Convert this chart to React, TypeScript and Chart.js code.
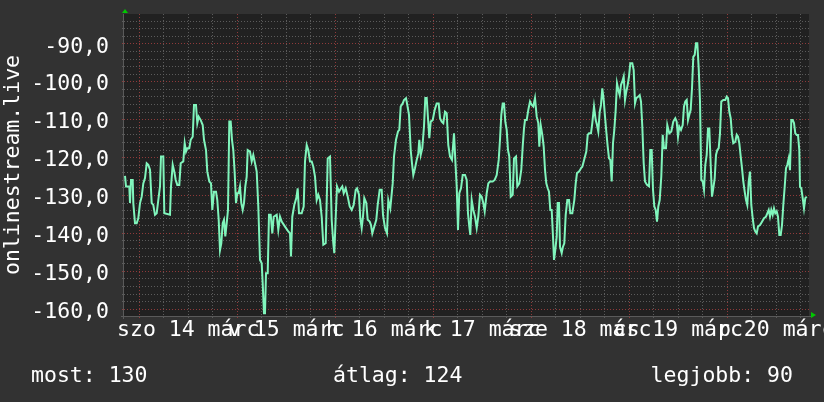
import React, { useEffect, useRef } from "react";
import { Chart, registerables } from "chart.js";

Chart.register(...registerables);

// ---- data (sample index = RRD row, one row per ~14.7 min) ----
const SAMPLE_INDEX: number[] = [
  1.0, 2.0, 5.3, 6.0, 7.0, 8.7, 9.3, 11.0, 12.7, 14.3, 16.0, 17.7, 19.3, 21.0, 22.7, 24.3, 26.0, 27.7, 29.3, 31.0,
  32.7, 34.3, 36.0, 37.0, 39.3, 40.3, 46.0, 47.0, 48.7, 50.3, 51.7, 53.3, 55.3, 56.7, 59.3, 60.7, 62.0, 63.3, 65.3, 66.7,
  68.7, 70.0, 72.0, 73.3, 74.7, 76.7, 78.7, 80.0, 82.0, 83.3, 85.3, 87.0, 88.3, 90.0, 92.0, 93.3, 94.7, 96.0, 97.3, 98.7,
  100.0, 101.3, 102.7, 104.0, 105.3, 106.7, 108.0, 109.3, 110.7, 112.0, 113.3, 114.7, 116.0, 117.3, 118.7, 120.0, 121.3, 122.7, 123.7, 126.0,
  127.7, 129.3,
  132.7, 134.3, 136.0, 137.7, 138.7, 140.0, 141.0, 142.0, 143.7, 145.0, 146.7, 148.3, 149.7, 152.7, 154.3, 156.0, 157.7, 161.0, 164.3, 166.0,
  167.0, 168.3, 170.3, 172.3, 173.7, 175.0, 177.7, 179.7, 181.0, 182.7, 184.3, 186.0, 187.7, 189.3, 191.0, 192.7, 194.3, 196.0, 197.7, 199.3,
  201.7, 203.7, 206.0, 207.7, 209.3, 210.3, 212.0, 213.0, 215.0, 217.0, 218.3, 219.7, 221.7, 223.7, 225.7, 227.7, 229.7, 231.7, 233.0, 235.0,
  236.3, 237.7, 239.0, 240.3, 242.3, 243.7, 245.7, 247.0, 248.3, 250.3, 252.3, 253.7, 255.7, 257.7, 259.0, 261.0, 263.0, 264.3, 266.3,
  268.7, 270.0, 272.0, 274.0, 275.3, 276.7, 278.7, 280.0, 282.0, 283.3, 285.0, 286.7, 288.0, 289.3, 291.0, 292.7, 294.3, 295.3, 296.7, 298.3,
  300.0, 301.3, 302.7, 304.0, 305.3, 306.7, 308.7, 310.7, 312.7, 314.7, 316.0, 317.7, 319.3, 321.0, 322.7, 324.3, 326.0, 328.0, 330.0, 331.3,
  332.7, 334.0, 335.3, 337.0, 338.7, 341.0, 342.7, 344.0, 345.3, 346.3, 347.7, 349.3, 351.0, 352.7, 354.3, 356.0, 357.7, 359.3, 360.7, 362.7,
  364.3, 366.0, 368.7, 370.7, 372.7, 374.7, 376.0, 377.3, 378.7, 380.0, 381.3, 382.7, 384.0, 385.3, 386.7, 388.7, 390.0, 392.0, 393.3, 395.3,
  397.3, 398.7, 400.0,
  401.0, 402.7, 404.3, 406.0, 407.7, 409.3, 411.0, 412.7, 414.3, 415.3, 416.7, 418.3, 419.7, 421.0, 422.3, 423.7, 425.0, 426.3, 427.7, 429.0,
  430.0, 431.3, 432.7, 433.7, 435.0, 436.0, 437.7, 439.0, 440.3, 441.7, 443.3, 445.0, 446.3, 448.3, 450.3, 451.7, 453.0, 455.0, 457.0, 458.3,
  459.7, 461.0, 462.3, 463.7, 465.0, 467.0, 468.3, 470.0, 471.7, 473.0, 474.3, 475.7, 477.0, 478.3, 479.7, 481.0, 482.3, 483.7, 485.0, 486.3,
  487.7, 489.0, 490.3, 491.7, 493.0, 494.3, 495.7, 497.0, 498.3, 499.7, 501.0, 502.3, 503.7, 505.0, 506.3, 508.3, 509.7, 511.0, 512.3, 514.3,
  515.7, 517.0, 518.3, 519.7, 521.0, 523.0, 525.0, 526.3, 527.7, 529.0, 530.3, 531.7, 533.0, 534.3, 535.7,
  537.3, 538.7, 540.0, 542.0, 543.3, 545.3, 547.3, 549.3, 551.3, 552.7, 554.0, 555.3, 557.0, 558.7, 560.0, 561.3, 562.7, 564.0, 565.3, 566.7,
  568.0, 569.3, 570.7, 572.0, 573.3, 574.7, 576.0, 577.3, 578.7, 580.0, 581.3, 582.7, 584.0, 585.3, 586.7, 588.0, 589.3, 590.7, 592.0, 593.3,
  594.7, 596.0, 597.3, 599.3, 601.3, 602.7, 604.0, 605.3, 606.7, 608.0, 609.3, 611.3, 612.7, 614.0, 615.3, 616.7, 618.0, 619.3, 620.7, 622.0,
  623.3, 624.7, 626.0, 627.3, 628.7, 630.0, 631.3, 632.7, 634.0, 636.0, 638.0, 640.0, 642.0, 643.3, 644.7, 646.0, 647.3, 648.7, 650.0, 651.3,
  652.7, 654.0, 655.3, 656.7, 658.0, 659.3, 660.7, 662.0, 663.3, 664.7, 666.0, 667.3, 668.7, 670.0, 671.3, 672.7, 674.0, 675.3, 676.0, 677.3,
  678.7, 680.0, 681.3, 682.7,
];

const SIGNAL_VALUES: number[] = [
  -124.8, -127.6, -127.6, -132.0, -125.9, -125.9, -132.0, -137.3, -137.3, -136.0, -132.0, -130.3, -126.8, -125.4, -121.5, -121.9, -123.2, -132.0, -132.5, -135.1,
  -134.7, -131.2, -127.6, -119.7, -119.7, -134.7, -135.1, -127.6, -121.9, -123.7, -125.9, -127.2, -127.2, -121.5, -121.0, -116.2, -118.4, -117.5, -117.5, -115.3,
  -114.5, -106.1, -106.1, -110.9, -109.2, -110.1, -111.4, -115.3, -118.0, -123.7, -126.3, -126.8, -133.8, -129.0, -129.0, -131.2, -136.4, -144.4, -142.6, -137.3,
  -136.4, -140.8, -137.3, -133.8, -110.5, -110.5, -115.3, -118.0, -124.1, -132.0, -129.4, -129.4, -127.6, -132.0, -133.8, -132.0, -127.6, -125.0, -118.0, -118.4,
  -121.0, -119.3,
  -123.7, -132.9, -147.0, -147.9, -153.2, -161.1, -161.1, -150.5, -150.5, -135.1, -135.1, -140.0, -135.6, -135.1, -139.1, -135.6, -136.9, -138.2, -139.5, -140.0,
  -146.1, -135.6, -132.5, -130.7, -128.1, -134.7, -134.7, -132.9, -121.0, -116.7, -118.0, -121.0, -121.0, -122.4, -125.0, -131.2, -129.8, -131.2, -135.6, -143.0,
  -142.6, -120.2, -119.7, -136.4, -142.6, -145.2, -133.8, -127.6, -129.0, -128.1, -127.6, -129.4, -128.1, -130.3, -132.9, -133.8, -132.5, -128.5, -128.1, -129.8,
  -136.0, -138.6, -135.6, -130.7, -132.0, -136.4, -136.9, -137.8, -140.0, -138.2, -136.4, -132.5, -128.5, -128.5, -135.1, -138.6, -140.0, -131.2, -133.4,
  -126.8, -119.7, -115.3, -113.1, -112.7, -106.5, -105.7, -104.8, -104.3, -106.1, -108.7, -118.0, -121.5, -124.6, -122.8, -120.6, -118.9, -115.3, -119.3, -117.5,
  -111.8, -104.3, -104.3, -109.6, -114.9, -110.5, -110.1, -107.4, -105.7, -105.7, -109.6, -110.5, -110.9, -107.9, -108.3, -116.7, -119.7, -120.6, -113.6, -120.6,
  -127.6, -139.1, -129.4, -128.1, -124.6, -124.6, -125.9, -134.7, -138.2, -140.4, -131.2, -133.8, -135.6, -138.6, -135.6, -129.8, -130.3, -132.0, -134.2, -129.4,
  -126.8, -126.3, -126.3, -125.9, -124.6, -120.6, -115.3, -108.7, -105.7, -105.7, -110.5, -112.7, -118.0, -119.7, -130.3, -129.8, -120.2, -119.7, -127.6, -126.8,
  -123.2, -117.1, -112.3,
  -110.1, -110.1, -107.4, -105.2, -106.1, -106.5, -104.3, -109.2, -110.9, -117.1, -111.4, -114.0, -117.1, -123.2, -126.8, -128.1, -129.0, -133.8, -133.8, -140.8,
  -147.0, -144.4, -140.8, -132.0, -132.0, -143.5, -145.2, -143.5, -142.6, -135.1, -131.2, -131.2, -134.7, -134.7, -131.2, -126.8, -124.1, -123.7, -122.8, -122.4,
  -121.0, -119.7, -118.4, -114.0, -113.6, -113.6, -110.9, -106.5, -110.1, -111.4, -113.1, -107.9, -106.1, -101.7, -104.8, -109.2, -113.1, -117.1, -120.2, -120.6,
  -126.3, -116.2, -112.7, -107.4, -100.4, -102.1, -103.5, -100.8, -99.9, -98.6, -104.8, -102.6, -100.8, -98.6, -95.1, -95.1, -96.9, -105.7, -104.3, -103.9,
  -103.5, -105.2, -111.8, -121.5, -126.3, -127.2, -127.6, -118.0, -118.0, -128.5, -132.9, -133.8, -136.9, -132.9, -131.2,
  -125.0, -114.0, -117.5, -117.5, -111.4, -113.6, -113.1, -110.5, -109.6, -110.5, -114.5, -111.8, -112.7, -111.4, -106.5, -105.2, -104.8, -110.1, -108.7, -107.4,
  -101.7, -93.4, -92.9, -89.8, -89.8, -96.4, -105.2, -125.9, -126.3, -128.5, -121.9, -119.3, -112.3, -112.3, -121.9, -130.3, -128.1, -125.5, -119.3, -118.0,
  -117.5, -113.6, -105.2, -104.8, -104.8, -103.9, -104.3, -107.9, -109.6, -114.0, -116.2, -115.8, -114.0, -114.5, -116.2, -119.7, -122.8, -126.3, -129.0, -131.2,
  -132.5, -126.3, -123.7, -132.5, -136.0, -138.6, -139.5, -140.0, -138.2, -137.8, -136.9, -136.0, -135.6, -134.7, -133.8, -135.6, -133.8, -135.1, -133.4, -134.7,
  -134.2, -135.6, -140.4, -140.4, -137.8, -132.5, -127.7, -122.8, -121.9, -120.2, -123.3, -110.1, -110.1, -110.9, -113.6, -114.0, -114.0, -118.0, -127.7, -128.1,
  -130.7, -133.4, -130.7, -130.3,
];

const DAY_LABELS = ["szo 14 márc", "v 15 márc", "h 16 márc", "k 17 márc", "sze 18 márc", "cs 19 márc", "p 20 márc"];
const LEGEND_LABELS = ["most: 130", "átlag: 124", "legjobb: 90"];
const AXIS_TITLE = "onlinestream.live";

// time axis: hours after Sat 14 Mar 00:00
const START_HOUR = -3.72;
const SAMPLE_HOURS = 24 / 98;
const SAMPLE_COUNT = 685;
const X_GRID_HOURS = 6;
const Y_MIN = -161.8;
const Y_MAX = -82.1;
const Y_MINOR_STEP = 2;
const Y_MAJOR_STEP = 10;

// ---- styles ----
const FONT = '"DejaVu Sans Mono", monospace';
const FONT_SIZE = 21.5;
const PAGE_BG = "#323232";
const PLOT_BG = "#212121";
const TEXT_COLOR = "#ffffff";
const LINE_COLOR = "#80f5bc";
const MAJOR_GRID = "rgba(150,60,60,0.95)";
const MINOR_GRID = "rgba(95,95,95,0.95)";
const AXIS_COLOR = "#5a5a5a";
const ARROW_COLOR = "#00c800";

const rrdDecor = {
  id: "rrdDecor",
  beforeDraw(chart: any) {
    const { ctx, chartArea: a, width, height } = chart;
    ctx.save();
    ctx.fillStyle = PAGE_BG;
    ctx.fillRect(0, 0, width, height);
    ctx.fillStyle = PLOT_BG;
    ctx.fillRect(a.left, a.top, a.right - a.left, a.bottom - a.top);
    ctx.restore();
  },
  beforeDatasetsDraw(chart: any) {
    const { ctx, chartArea: a } = chart;
    ctx.save();
    ctx.strokeStyle = AXIS_COLOR;
    ctx.lineWidth = 1;
    ctx.beginPath();
    ctx.moveTo(a.left - 3, Math.round(a.bottom) + 0.5);
    ctx.lineTo(a.right + 2, Math.round(a.bottom) + 0.5);
    ctx.moveTo(Math.round(a.left) - 0.5, a.top);
    ctx.lineTo(Math.round(a.left) - 0.5, a.bottom + 3);
    ctx.stroke();
    ctx.restore();
  },
  afterDraw(chart: any) {
    const { ctx, chartArea: a } = chart;
    ctx.save();
    // arrows
    ctx.fillStyle = ARROW_COLOR;
    ctx.beginPath();
    ctx.moveTo(a.left + 1, a.top - 5);
    ctx.lineTo(a.left - 2, a.top - 1);
    ctx.lineTo(a.left + 4, a.top - 1);
    ctx.closePath();
    ctx.fill();
    ctx.beginPath();
    ctx.moveTo(a.right + 7, a.bottom - 1);
    ctx.lineTo(a.right + 2, a.bottom - 4);
    ctx.lineTo(a.right + 2, a.bottom + 2);
    ctx.closePath();
    ctx.fill();
    // axis title
    ctx.fillStyle = TEXT_COLOR;
    ctx.font = `${FONT_SIZE}px ${FONT}`;
    ctx.save();
    ctx.translate(19, (a.top + a.bottom) / 2);
    ctx.rotate(-Math.PI / 2);
    ctx.textAlign = "center";
    ctx.textBaseline = "alphabetic";
    ctx.fillText(AXIS_TITLE, 0, 0);
    ctx.restore();
    // legend
    ctx.textBaseline = "alphabetic";
    ctx.textAlign = "left";
    ctx.fillText(LEGEND_LABELS[0], 31, 381.5);
    ctx.fillText(LEGEND_LABELS[1], 333, 381.5);
    ctx.textAlign = "right";
    ctx.fillText(LEGEND_LABELS[2], 793, 381.5);
    ctx.restore();
  },
};

export default function App() {
  const ref = useRef<HTMLCanvasElement>(null);
  useEffect(() => {
    document.body.style.margin = "0";
    document.body.style.background = PAGE_BG;
    const canvas = ref.current!;
    const points = SAMPLE_INDEX.map((s, i) => ({ x: START_HOUR + s * SAMPLE_HOURS, y: SIGNAL_VALUES[i] }));
    const isMajorX = (v: number) => ((Math.round(v) % 24) + 24) % 24 === 0;
    const isMajorY = (v: number) => Math.round(v) % Y_MAJOR_STEP === 0;
    const chart = new Chart(canvas, {
      type: "line",
      data: {
        datasets: [
          {
            data: points,
            borderColor: LINE_COLOR,
            borderWidth: 2,
            pointRadius: 0,
            tension: 0,
            fill: false,
          },
        ],
      },
      options: {
        responsive: false,
        animation: false,
        devicePixelRatio: 1,
        layout: { padding: { top: 14, right: 15, bottom: 0, left: 0 } },
        plugins: { legend: { display: false }, tooltip: { enabled: false }, title: { display: false } },
        scales: {
          x: {
            type: "linear",
            min: START_HOUR,
            max: START_HOUR + SAMPLE_COUNT * SAMPLE_HOURS,
            afterFit: (s: any) => {
              s.height = 86;
              s.paddingLeft = 0;
              s.paddingRight = 0;
            },
            ticks: {
              stepSize: X_GRID_HOURS,
              includeBounds: false,
              autoSkip: false,
              maxRotation: 0,
              minRotation: 0,
              padding: 0,
              color: TEXT_COLOR,
              font: { family: FONT, size: FONT_SIZE },
              callback: (v: any) => {
                const h = Math.round(Number(v));
                if (((h % 24) + 24) % 24 !== 12) return "";
                return DAY_LABELS[Math.floor(h / 24)] ?? "";
              },
            },
            grid: {
              color: (c: any) => (c.tick && isMajorX(c.tick.value) ? MAJOR_GRID : MINOR_GRID),
              lineWidth: 1,
              drawTicks: true,
              tickLength: 2,
            },
            border: { display: false, dash: [1, 2] },
          },
          y: {
            type: "linear",
            min: Y_MIN,
            max: Y_MAX,
            afterFit: (s: any) => {
              s.width = 124;
              s.paddingTop = 0;
              s.paddingBottom = 0;
            },
            ticks: {
              stepSize: Y_MINOR_STEP,
              includeBounds: false,
              autoSkip: false,
              padding: 13,
              labelOffset: 3,
              color: TEXT_COLOR,
              font: { family: FONT, size: FONT_SIZE },
              callback: (v: any) => {
                const n = Math.round(Number(v));
                return n % Y_MAJOR_STEP === 0 ? n.toFixed(1).replace(".", ",") : "";
              },
            },
            grid: {
              color: (c: any) => (c.tick && isMajorY(c.tick.value) ? MAJOR_GRID : MINOR_GRID),
              lineWidth: 1,
              drawTicks: true,
              tickLength: 2,
            },
            border: { display: false, dash: [1, 2] },
          },
        },
      },
      plugins: [rrdDecor],
    } as any);
    return () => chart.destroy();
  }, []);
  return (
    <div style={{ width: 824, height: 402 }}>
      <canvas ref={ref} width={824} height={402} style={{ display: "block" }} />
    </div>
  );
}
